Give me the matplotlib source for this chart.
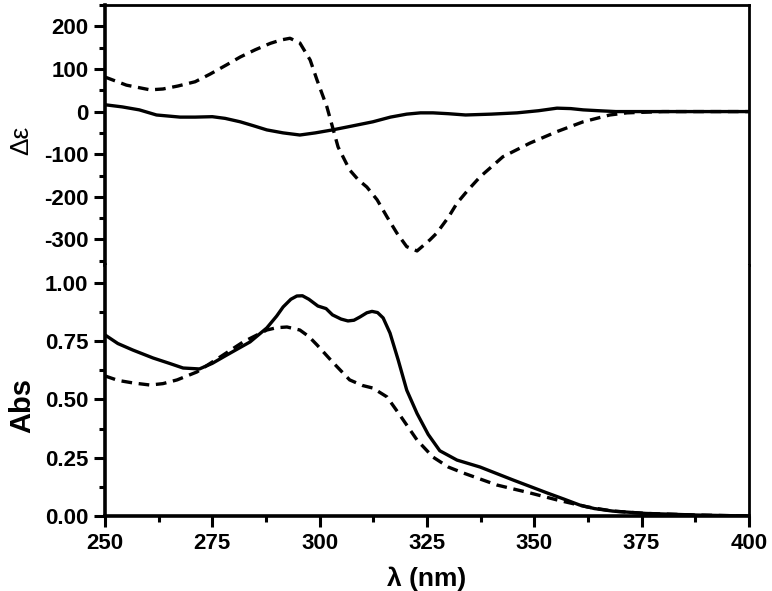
import matplotlib.pyplot as plt
from matplotlib.ticker import MultipleLocator

plt.rcParams['font.family'] = ['Liberation Sans', 'DejaVu Sans']

# CD spectra (top panel)
cd_solid_x = [250, 254, 258, 262, 267.5, 271, 275, 278, 281.5, 284.5, 287.7, 291.5, 295.4,
              299, 303, 307.5, 312.4, 316.5, 320.3, 323.5, 326.4, 330, 334, 340, 346,
              351, 355.3, 358.5, 361.4, 365, 369, 380, 390, 400]
cd_solid_y = [16, 11, 4, -8, -13, -13, -12, -16, -24, -33, -43, -50, -55,
              -50, -43, -34, -24, -13, -6, -3, -3, -5, -8, -6, -3,
              2, 8, 7, 4, 2, 0, 0, 0, 0]
cd_dash_x = [250, 255, 260.5, 263.5, 267, 271, 274.5, 278.4, 281.5, 285, 288.5, 291, 293.1,
             295.4, 297.8, 299.4, 301.7, 304.3, 307, 309, 311, 313.4, 315.7, 318, 320.3,
             322.7, 325.7, 327.3, 330, 332, 334.5, 337.4, 342.7, 349, 355.3,
             361.4, 367.6, 371.6, 380, 390, 400]
cd_dash_y = [81, 62, 51, 53, 60, 70, 88, 110, 128, 145, 160, 168, 172,
             161, 121, 74, 11, -83, -137, -160, -177, -207, -247, -285, -317,
             -327, -301, -285, -248, -215, -185, -153, -106, -74, -47,
             -24, -8, -3, 0, 0, 0]

# UV absorption (bottom panel)
abs_solid_x = [250, 253, 256.5, 261.2, 265, 268.2, 272, 275, 278.4, 283.8, 287.7, 290, 291.5,
               293.3, 294.7, 296, 297.5, 299.6, 301.5, 303, 305, 306.6, 308, 309.4, 311,
               312.2, 313.5, 314.8, 316.4, 318.3, 320.3, 322.7, 325.3, 328, 332,
               337.4, 345, 353, 357, 360.6, 364, 368.3, 376, 388, 400]
abs_solid_y = [0.777, 0.740, 0.712, 0.678, 0.655, 0.635, 0.631, 0.655, 0.691, 0.747, 0.807,
               0.858, 0.897, 0.930, 0.944, 0.945, 0.930, 0.901, 0.890, 0.863, 0.845, 0.837,
               0.840, 0.854, 0.872, 0.878, 0.873, 0.850, 0.785, 0.670, 0.540, 0.440, 0.350,
               0.280, 0.240, 0.210, 0.155, 0.099, 0.072, 0.047, 0.032, 0.021, 0.011,
               0.004, 0.0]
abs_dash_x = [250, 253, 256.5, 260.5, 263.5, 266.8, 271.4, 276.8, 282.2, 287.7, 290, 292.4,
              295.4, 297.5, 299.4, 303, 307, 310, 312.4, 315.7, 318.7, 322.7, 326.4, 330,
              333.4, 341.3, 349, 355.3, 362.3, 368.3, 376, 388, 400]
abs_dash_y = [0.601, 0.582, 0.571, 0.562, 0.568, 0.584, 0.618, 0.682, 0.747, 0.798, 0.808,
              0.811, 0.798, 0.770, 0.734, 0.661, 0.584, 0.560, 0.549, 0.511, 0.433, 0.326,
              0.253, 0.210, 0.185, 0.133, 0.099, 0.069, 0.039, 0.021, 0.011, 0.004, 0.0]

fig = plt.figure(figsize=(7.72, 5.91), dpi=100)
ax1 = fig.add_axes([0.136, 0.5516, 0.834, 0.4399])
ax2 = fig.add_axes([0.136, 0.1269, 0.834, 0.4247], sharex=ax1)

dash = (0, (3.2, 2.0))
ax1.plot(cd_solid_x, cd_solid_y, color='black', lw=2.4, solid_joinstyle='round')
ax1.plot(cd_dash_x, cd_dash_y, color='black', lw=2.4, linestyle=dash)
ax2.plot(abs_solid_x, abs_solid_y, color='black', lw=2.4, solid_joinstyle='round')
ax2.plot(abs_dash_x, abs_dash_y, color='black', lw=2.4, linestyle=dash)

ax1.set_xlim(250, 400)
ax1.set_ylim(-360, 250)
ax2.set_ylim(0, 1.077)

ax1.yaxis.set_major_locator(MultipleLocator(100))
ax1.yaxis.set_minor_locator(MultipleLocator(50))
ax2.yaxis.set_major_locator(MultipleLocator(0.25))
ax2.yaxis.set_minor_locator(MultipleLocator(0.125))
ax2.xaxis.set_major_locator(MultipleLocator(25))
ax2.xaxis.set_minor_locator(MultipleLocator(12.5))
ax2.yaxis.set_major_formatter(lambda v, p: '%.2f' % v)
ax1.yaxis.set_major_formatter(lambda v, p: '%d' % v)

for ax in (ax1, ax2):
    ax.tick_params(which='major', direction='out', length=8, width=2.2, labelsize=16, pad=4)
    ax.tick_params(which='minor', direction='out', length=4.5, width=2.2)
    ax.tick_params(right=False, top=False, which='both')
    for lab in ax.get_yticklabels() + ax.get_xticklabels():
        lab.set_fontweight('bold')
    ax.spines['left'].set_linewidth(2.6)
    ax.spines['right'].set_linewidth(2.0)

ax1.spines['bottom'].set_visible(False)
ax1.spines['top'].set_linewidth(2.0)
ax2.spines['top'].set_visible(False)
ax2.spines['bottom'].set_linewidth(2.6)
ax1.tick_params(axis='x', which='both', bottom=False, labelbottom=False)

ax1.set_ylabel('Δε', fontsize=19)
ax1.yaxis.set_label_coords(-0.112, 0.48)
ax2.set_ylabel('Abs', fontsize=21, fontweight='bold')
ax2.yaxis.set_label_coords(-0.107, 0.44)
ax2.set_xlabel('λ (nm)', fontsize=19, fontweight='bold', labelpad=9)

fig.savefig('out.png', dpi=100)
